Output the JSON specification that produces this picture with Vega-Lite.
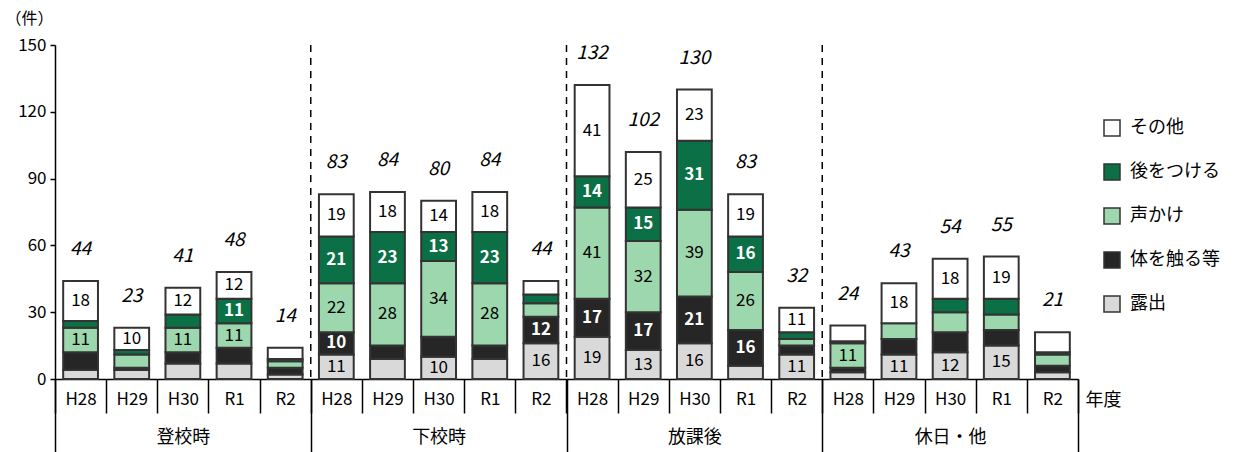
{
  "$schema": "https://vega.github.io/schema/vega-lite/v6.json",
  "width": 1023,
  "height": 334,
  "autosize": {"type": "none"},
  "padding": {"left": 55, "top": 45, "right": 167, "bottom": 73},
  "config": {
    "font": "Liberation Sans Narrow, Arial Narrow, Noto Sans CJK JP",
    "view": {"stroke": null},
    "axis": {"grid": false, "labelColor": "#000", "titleColor": "#000"},
    "text": {"font": "Liberation Sans Narrow, Arial Narrow, Noto Sans CJK JP"}
  },
  "layer": [
    {
      "data": {
        "values": [
          {"g": "登校時", "yr": "H28", "露出": 4, "体を触る等": 8, "声かけ": 11, "後をつける": 3, "その他": 18},
          {"g": "登校時", "yr": "H29", "露出": 4, "体を触る等": 1, "声かけ": 6, "後をつける": 2, "その他": 10},
          {"g": "登校時", "yr": "H30", "露出": 7, "体を触る等": 5, "声かけ": 11, "後をつける": 6, "その他": 12},
          {"g": "登校時", "yr": "R1", "露出": 7, "体を触る等": 7, "声かけ": 11, "後をつける": 11, "その他": 12},
          {"g": "登校時", "yr": "R2", "露出": 2, "体を触る等": 3, "声かけ": 3, "後をつける": 1, "その他": 5},
          {"g": "下校時", "yr": "H28", "露出": 11, "体を触る等": 10, "声かけ": 22, "後をつける": 21, "その他": 19},
          {"g": "下校時", "yr": "H29", "露出": 9, "体を触る等": 6, "声かけ": 28, "後をつける": 23, "その他": 18},
          {"g": "下校時", "yr": "H30", "露出": 10, "体を触る等": 9, "声かけ": 34, "後をつける": 13, "その他": 14},
          {"g": "下校時", "yr": "R1", "露出": 9, "体を触る等": 6, "声かけ": 28, "後をつける": 23, "その他": 18},
          {"g": "下校時", "yr": "R2", "露出": 16, "体を触る等": 12, "声かけ": 6, "後をつける": 4, "その他": 6},
          {"g": "放課後", "yr": "H28", "露出": 19, "体を触る等": 17, "声かけ": 41, "後をつける": 14, "その他": 41},
          {"g": "放課後", "yr": "H29", "露出": 13, "体を触る等": 17, "声かけ": 32, "後をつける": 15, "その他": 25},
          {"g": "放課後", "yr": "H30", "露出": 16, "体を触る等": 21, "声かけ": 39, "後をつける": 31, "その他": 23},
          {"g": "放課後", "yr": "R1", "露出": 6, "体を触る等": 16, "声かけ": 26, "後をつける": 16, "その他": 19},
          {"g": "放課後", "yr": "R2", "露出": 11, "体を触る等": 4, "声かけ": 3, "後をつける": 3, "その他": 11},
          {"g": "休日・他", "yr": "H28", "露出": 3, "体を触る等": 2, "声かけ": 11, "後をつける": 1, "その他": 7},
          {"g": "休日・他", "yr": "H29", "露出": 11, "体を触る等": 7, "声かけ": 7, "後をつける": 0, "その他": 18},
          {"g": "休日・他", "yr": "H30", "露出": 12, "体を触る等": 9, "声かけ": 9, "後をつける": 6, "その他": 18},
          {"g": "休日・他", "yr": "R1", "露出": 15, "体を触る等": 7, "声かけ": 7, "後をつける": 7, "その他": 19},
          {"g": "休日・他", "yr": "R2", "露出": 3, "体を触る等": 3, "声かけ": 5, "後をつける": 1, "その他": 9}
        ]
      },
      "transform": [
        {"calculate": "datum.g + '|' + datum.yr", "as": "key"},
        {"fold": ["露出", "体を触る等", "声かけ", "後をつける", "その他"], "as": ["t", "v"]},
        {"calculate": "indexof(['露出','体を触る等','声かけ','後をつける','その他'], datum.t)", "as": "ord"},
        {"stack": "v", "groupby": ["key"], "sort": [{"field": "ord", "order": "ascending"}], "as": ["v0", "v1"]},
        {"calculate": "(datum.v0 + datum.v1) / 2", "as": "mid"}
      ],
      "encoding": {
        "x": {
          "field": "key",
          "type": "nominal",
          "scale": {
            "domain": ["登校時|H28","登校時|H29","登校時|H30","登校時|R1","登校時|R2","下校時|H28","下校時|H29","下校時|H30","下校時|R1","下校時|R2","放課後|H28","放課後|H29","放課後|H30","放課後|R1","放課後|R2","休日・他|H28","休日・他|H29","休日・他|H30","休日・他|R1","休日・他|R2"],
            "paddingInner": 0,
            "paddingOuter": 0
          },
          "axis": {
            "orient": "bottom",
            "title": "年度",
            "titleAngle": 0,
            "titleX": 1030,
            "titleY": 21,
            "titleAlign": "left",
            "titleBaseline": "middle",
            "titleFontSize": 18,
            "titleFontWeight": "normal",
            "labelExpr": "split(datum.label, '|')[1]",
            "labelAngle": 0,
            "labelFontSize": 17,
            "labelBaseline": "middle",
            "labelPadding": -14,
            "tickBand": "extent",
            "tickSize": 34,
            "tickColor": "#000",
            "tickWidth": 1.5,
            "domainColor": "#000",
            "domainWidth": 1.5
          }
        }
      },
      "layer": [
        {
          "transform": [{"filter": "datum.v > 0"}],
          "mark": {"type": "bar", "stroke": "#333", "strokeWidth": 2, "width": {"band": 0.68}},
          "encoding": {
            "y": {
              "field": "v1",
              "type": "quantitative",
              "scale": {"domain": [0, 150], "nice": false},
              "axis": {
                "title": "（件）",
                "titleAngle": 0,
                "titleX": -50,
                "titleY": -27,
                "titleAlign": "left",
                "titleBaseline": "middle",
                "titleFontSize": 16,
                "titleFontWeight": "normal",
                "values": [0, 30, 60, 90, 120, 150],
                "tickSize": 5,
                "tickColor": "#000",
                "tickWidth": 1.5,
                "labelFontSize": 17,
                "labelPadding": 4,
                "domainColor": "#000",
                "domainWidth": 1.5
              }
            },
            "y2": {"field": "v0"},
            "color": {
              "field": "t",
              "type": "nominal",
              "scale": {
                "domain": ["その他", "後をつける", "声かけ", "体を触る等", "露出"],
                "range": ["#ffffff", "#0b7045", "#9dd7ad", "#262626", "#d9d9d9"]
              },
              "legend": {
                "orient": "none",
                "legendX": 1048,
                "legendY": 74,
                "title": null,
                "symbolType": "square",
                "symbolSize": 256,
                "symbolStrokeColor": "#333",
                "symbolStrokeWidth": 1.5,
                "labelFontSize": 18,
                "labelColor": "#000",
                "labelOffset": 9,
                "rowPadding": 22
              }
            }
          }
        },
        {
          "transform": [{"filter": "datum.v >= 10 && datum.t !== '後をつける' && datum.t !== '体を触る等'"}],
          "mark": {"type": "text", "fontSize": 17, "baseline": "middle", "color": "#000"},
          "encoding": {
            "y": {"field": "mid", "type": "quantitative"},
            "text": {"field": "v", "type": "quantitative"}
          }
        },
        {
          "transform": [{"filter": "datum.v >= 10 && (datum.t === '後をつける' || datum.t === '体を触る等')"}],
          "mark": {"type": "text", "fontSize": 17, "fontWeight": "bold", "baseline": "middle", "color": "#fff"},
          "encoding": {
            "y": {"field": "mid", "type": "quantitative"},
            "text": {"field": "v", "type": "quantitative"}
          }
        },
        {
          "transform": [{"aggregate": [{"op": "sum", "field": "v", "as": "total"}], "groupby": ["key"]}],
          "mark": {"type": "text", "fontSize": 19, "fontStyle": "italic", "baseline": "alphabetic", "dy": -26, "color": "#000"},
          "encoding": {
            "y": {"field": "total", "type": "quantitative"},
            "text": {"field": "total", "type": "quantitative"}
          }
        }
      ]
    },
    {
      "data": {"values": [{"g": "下校時"}, {"g": "放課後"}, {"g": "休日・他"}]},
      "mark": {"type": "rule", "strokeDash": [7, 6], "strokeWidth": 1.5, "color": "#000"},
      "encoding": {
        "x": {
          "field": "g",
          "type": "nominal",
          "bandPosition": 0,
          "scale": {"domain": ["登校時", "下校時", "放課後", "休日・他"], "paddingInner": 0, "paddingOuter": 0},
          "axis": {
            "orient": "bottom",
            "title": null,
            "domain": false,
            "tickBand": "extent",
            "tickSize": 73,
            "tickWidth": 1.5,
            "tickColor": "#000",
            "labelAngle": 0,
            "labelFontSize": 18,
            "labelBaseline": "middle",
            "labelPadding": -15
          }
        }
      }
    }
  ],
  "resolve": {"scale": {"x": "independent"}, "axis": {"x": "independent"}}
}
